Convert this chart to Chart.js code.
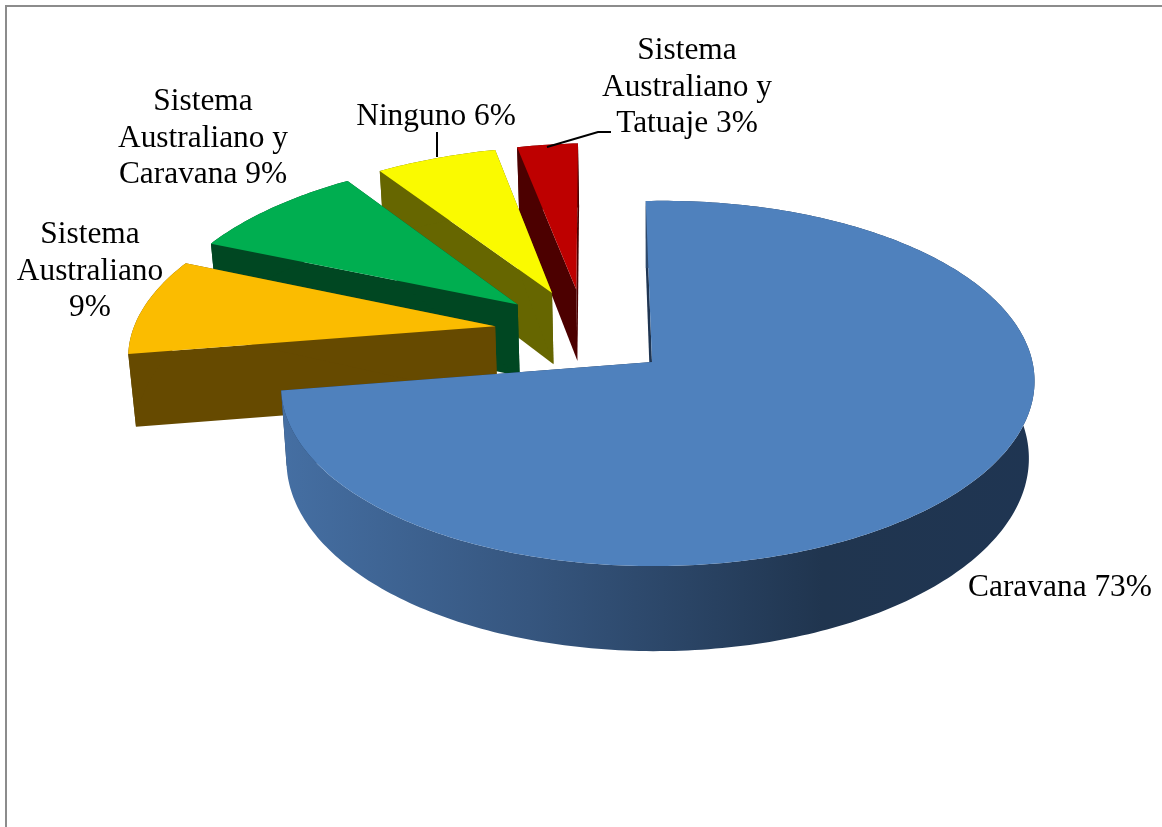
<!DOCTYPE html>
<html>
<head>
<meta charset="utf-8">
<title>Pie</title>
<script src="https://cdn.jsdelivr.net/npm/chart.js@4/dist/chart.umd.min.js"></script>
<style>
    html, body { margin: 0; padding: 0; background: #fff; }
    canvas { display: block; }
</style>
</head>
<body>
<canvas id="canv-chart" width="1162" height="827"></canvas>
<script>
var categories = ['Caravana', 'Sistema Australiano', 'Sistema Australiano y Caravana', 'Ninguno', 'Sistema Australiano y Tatuaje'];
var percents = [73, 9, 9, 6, 3];
var topColors = ['#4f81bd', '#fbbc00', '#00ae50', '#fafa00', '#be0000'];
var wallColors = ['#1f3552', '#664a00', '#004722', '#666600', '#4c0000'];

// text of each data label, one entry per line
var labelLines = [
    ['Caravana 73%'],
    ['Sistema', 'Australiano', '9%'],
    ['Sistema', 'Australiano y', 'Caravana 9%'],
    ['Ninguno 6%'],
    ['Sistema', 'Australiano y', 'Tatuaje 3%']
];
var labelX = [1060, 90, 203, 436, 687];
var labelY = [596, 243, 110, 125, 59];

// 3d view of the pie plane, fitted by eye to the picture
var view = {
    ox: 652, oy: 362, px: 374, py: -6, qx: 7, qy: 180, c: -0.118, d: -0.013,
    depth: 75, taper: 0.015, explode: 0.25,
    // small corrections for the pulled out slices
    rimScaleU: 1.02, nudgeU: 0.006, nudgeV: -0.015
};

function project(u, v, t) {
    var w = 1 + view.c * v + view.d * u;
    return {
        x: view.ox + (view.px * u + view.qx * v) / (w * (1 + view.taper * t)),
        y: view.oy + (view.py * u + view.qy * v) / w + view.depth * t / w
    };
}

function tracePoly(ctx, pts, color) {
    ctx.beginPath();
    ctx.moveTo(pts[0].x, pts[0].y);
    for (var i = 1; i < pts.length; i++) {
        ctx.lineTo(pts[i].x, pts[i].y);
    }
    ctx.closePath();
    ctx.fillStyle = color;
    ctx.fill();
}

function drawSlice(ctx, arc, index, baseDir) {
    var mid = (arc.startAngle + arc.endAngle) / 2;
    var cx = view.explode * (Math.cos(mid) - baseDir.x);
    var cy = view.explode * (Math.sin(mid) - baseDir.y);
    var ru = 1;
    if (index > 0) {
        cx += view.nudgeU;
        cy += view.nudgeV;
        ru = view.rimScaleU;
    }
    var steps = Math.ceil((arc.endAngle - arc.startAngle) * 60);
    var topRim = [];
    var lowRim = [];
    for (var i = 0; i <= steps; i++) {
        var a = arc.startAngle + (arc.endAngle - arc.startAngle) * i / steps;
        topRim.push(project(cx + ru * Math.cos(a), cy + Math.sin(a), 0));
        lowRim.push(project(cx + ru * Math.cos(a), cy + Math.sin(a), 1));
    }
    var apexTop = project(cx, cy, 0);
    var apexLow = project(cx, cy, 1);
    var wall = wallColors[index];

    var rimColor = wall;
    if (index === 0) {
        rimColor = ctx.createLinearGradient(280, 0, 1033, 0);
        rimColor.addColorStop(0, '#456fa3');
        rimColor.addColorStop(0.33, '#36567f');
        rimColor.addColorStop(0.72, '#20354f');
        rimColor.addColorStop(1, '#1f3552');
    }
    tracePoly(ctx, [apexTop, topRim[0], lowRim[0], apexLow], wall);
    tracePoly(ctx, [apexTop, topRim[steps], lowRim[steps], apexLow], wall);
    tracePoly(ctx, topRim.concat(lowRim.slice().reverse()), rimColor);
    tracePoly(ctx, [apexTop].concat(topRim), topColors[index]);
}

var pie3d = {
    id: 'pie3d',
    // the library works out the arcs, this only paints them in the tilted view
    beforeDatasetsDraw: function (chart) {
        var ctx = chart.ctx;
        var arcs = chart.getDatasetMeta(0).data;
        var baseMid = (arcs[0].startAngle + arcs[0].endAngle) / 2;
        var baseDir = { x: Math.cos(baseMid), y: Math.sin(baseMid) };
        ctx.save();
        for (var i = arcs.length - 1; i >= 0; i--) {
            drawSlice(ctx, arcs[i], i, baseDir);
        }
        ctx.restore();
        return false;
    },
    afterDraw: function (chart) {
        var ctx = chart.ctx;
        ctx.save();

        // frame, only top and left are inside the picture
        ctx.strokeStyle = '#8c8c8c';
        ctx.lineWidth = 2;
        ctx.beginPath();
        ctx.moveTo(6, 827);
        ctx.lineTo(6, 6);
        ctx.lineTo(1162, 6);
        ctx.stroke();

        // leader lines
        ctx.strokeStyle = '#000';
        ctx.lineWidth = 2;
        ctx.beginPath();
        ctx.moveTo(437, 132);
        ctx.lineTo(437, 157);
        ctx.moveTo(547, 147);
        ctx.lineTo(598, 132);
        ctx.lineTo(611, 132);
        ctx.stroke();

        ctx.fillStyle = '#000';
        ctx.font = '31.4px "Liberation Serif"';
        ctx.textAlign = 'center';
        ctx.textBaseline = 'alphabetic';
        for (var i = 0; i < labelLines.length; i++) {
            for (var j = 0; j < labelLines[i].length; j++) {
                ctx.fillText(labelLines[i][j], labelX[i], labelY[i] + j * 36.5);
            }
        }
        ctx.restore();
    }
};

var myChart = new Chart(document.getElementById('canv-chart'), {
    type: 'pie',
    data: {
        labels: categories,
        datasets: [{
            data: percents,
            backgroundColor: topColors,
            borderWidth: 0
        }]
    },
    options: {
        responsive: false,
        animation: false,
        plugins: {
            legend: { display: false },
            tooltip: { enabled: false }
        }
    },
    plugins: [pie3d]
});
</script>
</body>
</html>
